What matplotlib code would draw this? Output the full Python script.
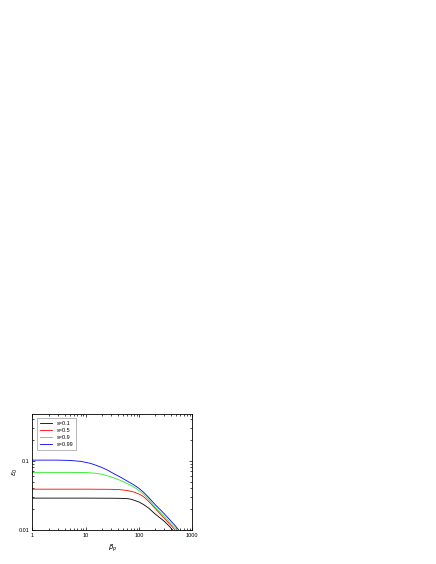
import matplotlib
matplotlib.use('Agg')
from matplotlib import pyplot as plt

plt.rcParams['font.family'] = ['Liberation Sans', 'DejaVu Sans']

# values
beta_01 = [1, 10, 30, 45, 60, 70, 80, 100, 120, 150, 200, 250, 300, 380, 440]
eps_01 = [0.029, 0.029, 0.0289, 0.0288, 0.0285, 0.0280, 0.0271, 0.0255, 0.0236, 0.021, 0.0172, 0.0150, 0.0134, 0.0112, 0.0098]

beta_05 = [1, 10, 30, 45, 60, 80, 100, 120, 150, 200, 250, 300, 400, 490]
eps_05 = [0.039, 0.039, 0.0388, 0.0383, 0.0373, 0.0355, 0.0332, 0.0307, 0.0263, 0.0207, 0.0172, 0.0148, 0.0117, 0.0098]

beta_09 = [1, 5, 10, 15, 20, 27, 35, 45, 60, 80, 100, 120, 150, 200, 250, 300, 400, 480, 535]
eps_09 = [0.068, 0.068, 0.0675, 0.0662, 0.0640, 0.0600, 0.0560, 0.0520, 0.0470, 0.0420, 0.0372, 0.0333, 0.0282, 0.0216, 0.0182, 0.0158, 0.0124, 0.0108, 0.0098]

beta_099 = [1, 3, 5, 8, 12, 15, 20, 25, 35, 45, 60, 80, 100, 120, 150, 200, 250, 300, 400, 480, 575]
eps_099 = [0.102, 0.102, 0.101, 0.098, 0.092, 0.087, 0.080, 0.074, 0.064, 0.058, 0.051, 0.045, 0.040, 0.0355, 0.030, 0.0235, 0.0198, 0.0172, 0.0135, 0.0116, 0.0098]

fig = plt.figure(figsize=(4.36, 5.64), dpi=100)
ax = fig.add_axes([0.0745, 0.0598, 0.3665, 0.2062])

lw = 0.6
ax.plot(beta_01, eps_01, color='black', lw=lw, label='s=0.1')
ax.plot(beta_05, eps_05, color='red', lw=lw, label='s=0.5')
ax.plot(beta_09, eps_09, color='#22ee22', lw=lw, label='s=0.9')
ax.plot(beta_099, eps_099, color='blue', lw=lw, label='s=0.99')

ax.set_xscale('log')
ax.set_yscale('log')
ax.set_xlim(1, 1000)
ax.set_ylim(0.01, 0.47)
ax.set_xticks([1, 10, 100, 1000])
ax.set_xticklabels(['1', '10', '100', '1000'])
ax.set_yticks([0.01, 0.1])
ax.set_yticklabels(['0.01', '0.1'])

ax.tick_params(which='both', direction='in', top=True, right=True, labelsize=4, width=0.5, pad=2)
ax.tick_params(which='major', length=2.5)
ax.tick_params(which='minor', length=1.3)
for sp in ax.spines.values():
    sp.set_linewidth(0.6)

ax.set_xlabel(r'$\beta_p$', fontsize=5, labelpad=3)
ax.set_ylabel(r'$\epsilon_0$', fontsize=5, labelpad=-1)

leg = ax.legend(loc='upper left', fontsize=4, frameon=True, fancybox=False,
                handlelength=2.3, borderpad=0.5, labelspacing=0.35, borderaxespad=0.8)
leg.get_frame().set_edgecolor('gray')
leg.get_frame().set_linewidth(0.5)

plt.savefig('out.png', dpi=100)
